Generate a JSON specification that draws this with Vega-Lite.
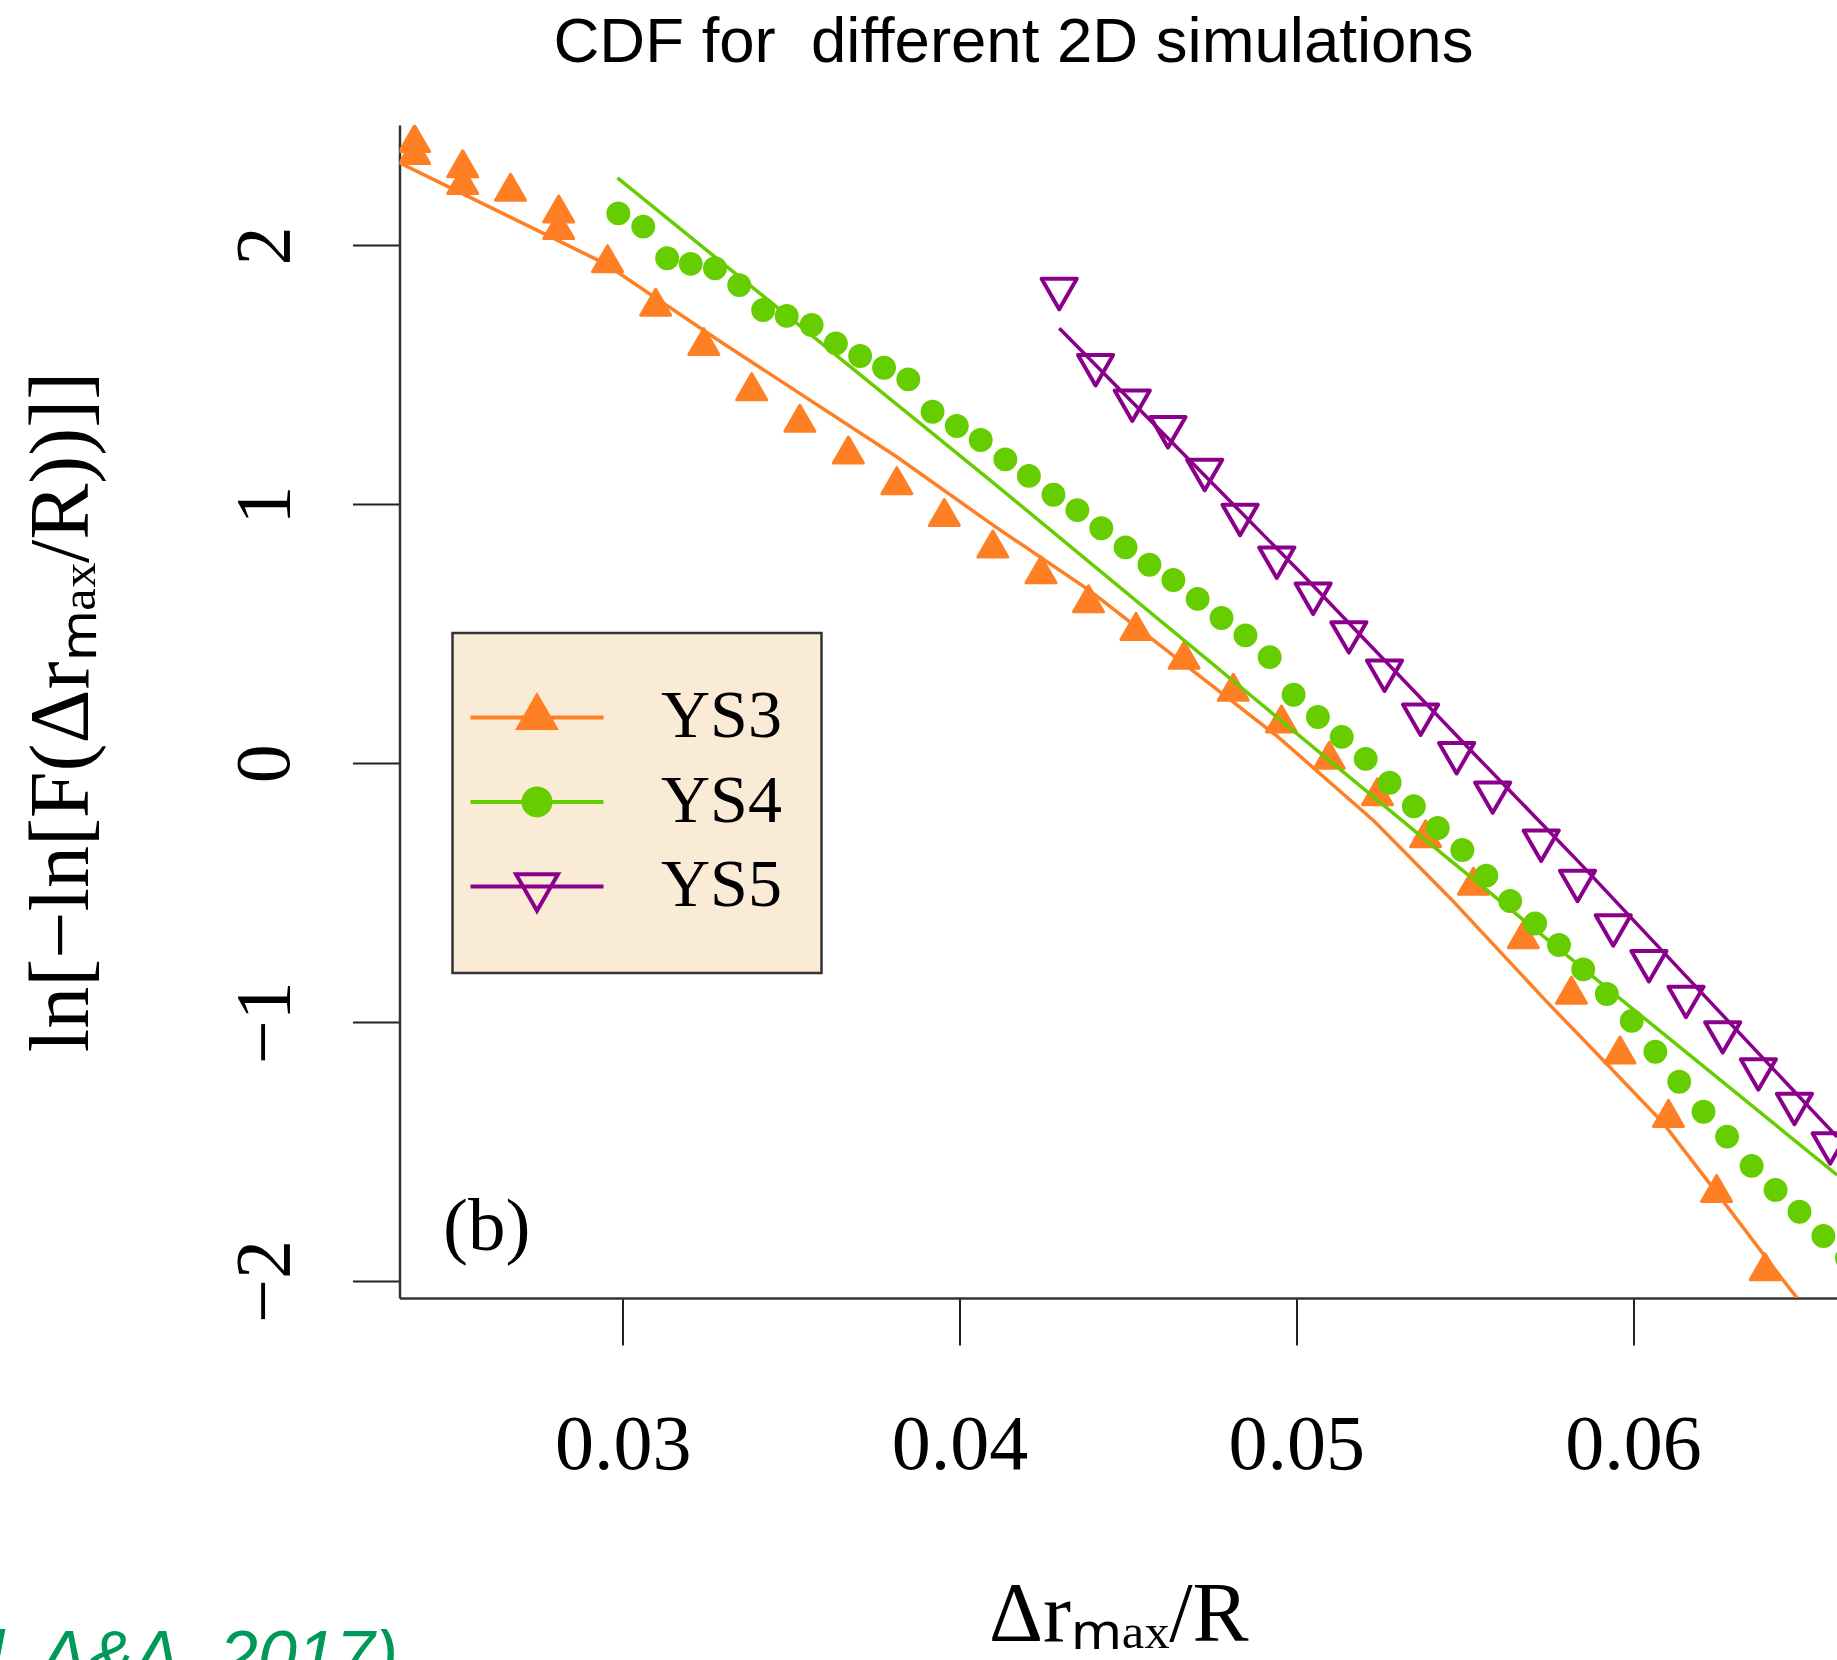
{
  "$schema": "https://vega.github.io/schema/vega-lite/v6.json",
  "autosize": {"type": "none"},
  "padding": {"left": 399.5, "top": 125, "right": 0, "bottom": 362},
  "width": 1437.5,
  "height": 1173,
  "background": "white",
  "title": {
    "text": "CDF for\u00a0 different 2D simulations",
    "anchor": "start",
    "frame": "group",
    "dx": 154,
    "offset": 0,
    "baseline": "alphabetic",
    "font": "Liberation Sans",
    "fontSize": 63.5,
    "fontWeight": "normal",
    "color": "#000000"
  },
  "datasets": {
    "points": [
      {"series": "YS3", "x": 0.02382, "y": 2.396},
      {"series": "YS3", "x": 0.02382, "y": 2.350},
      {"series": "YS3", "x": 0.02525, "y": 2.299},
      {"series": "YS3", "x": 0.02525, "y": 2.234},
      {"series": "YS3", "x": 0.02667, "y": 2.208},
      {"series": "YS3", "x": 0.02810, "y": 2.124},
      {"series": "YS3", "x": 0.02810, "y": 2.060},
      {"series": "YS3", "x": 0.02955, "y": 1.932},
      {"series": "YS3", "x": 0.03098, "y": 1.764},
      {"series": "YS3", "x": 0.03241, "y": 1.612},
      {"series": "YS3", "x": 0.03383, "y": 1.438},
      {"series": "YS3", "x": 0.03526, "y": 1.316},
      {"series": "YS3", "x": 0.03670, "y": 1.193},
      {"series": "YS3", "x": 0.03814, "y": 1.075},
      {"series": "YS3", "x": 0.03955, "y": 0.952},
      {"series": "YS3", "x": 0.04099, "y": 0.830},
      {"series": "YS3", "x": 0.04242, "y": 0.731},
      {"series": "YS3", "x": 0.04383, "y": 0.619},
      {"series": "YS3", "x": 0.04524, "y": 0.512},
      {"series": "YS3", "x": 0.04667, "y": 0.401},
      {"series": "YS3", "x": 0.04813, "y": 0.277},
      {"series": "YS3", "x": 0.04956, "y": 0.154},
      {"series": "YS3", "x": 0.05098, "y": 0.014},
      {"series": "YS3", "x": 0.05241, "y": -0.127},
      {"series": "YS3", "x": 0.05384, "y": -0.289},
      {"series": "YS3", "x": 0.05526, "y": -0.472},
      {"series": "YS3", "x": 0.05674, "y": -0.679},
      {"series": "YS3", "x": 0.05817, "y": -0.893},
      {"series": "YS3", "x": 0.05961, "y": -1.124},
      {"series": "YS3", "x": 0.06105, "y": -1.369},
      {"series": "YS3", "x": 0.06248, "y": -1.659},
      {"series": "YS3", "x": 0.06392, "y": -1.961},
      {"series": "YS4", "x": 0.02987, "y": 2.124},
      {"series": "YS4", "x": 0.03061, "y": 2.073},
      {"series": "YS4", "x": 0.03132, "y": 1.951},
      {"series": "YS4", "x": 0.03202, "y": 1.929},
      {"series": "YS4", "x": 0.03274, "y": 1.912},
      {"series": "YS4", "x": 0.03346, "y": 1.847},
      {"series": "YS4", "x": 0.03417, "y": 1.751},
      {"series": "YS4", "x": 0.03487, "y": 1.728},
      {"series": "YS4", "x": 0.03561, "y": 1.693},
      {"series": "YS4", "x": 0.03633, "y": 1.622},
      {"series": "YS4", "x": 0.03705, "y": 1.573},
      {"series": "YS4", "x": 0.03776, "y": 1.528},
      {"series": "YS4", "x": 0.03848, "y": 1.483},
      {"series": "YS4", "x": 0.03920, "y": 1.358},
      {"series": "YS4", "x": 0.03992, "y": 1.303},
      {"series": "YS4", "x": 0.04063, "y": 1.249},
      {"series": "YS4", "x": 0.04136, "y": 1.174},
      {"series": "YS4", "x": 0.04206, "y": 1.110},
      {"series": "YS4", "x": 0.04279, "y": 1.037},
      {"series": "YS4", "x": 0.04350, "y": 0.978},
      {"series": "YS4", "x": 0.04421, "y": 0.908},
      {"series": "YS4", "x": 0.04493, "y": 0.834},
      {"series": "YS4", "x": 0.04564, "y": 0.767},
      {"series": "YS4", "x": 0.04635, "y": 0.708},
      {"series": "YS4", "x": 0.04707, "y": 0.635},
      {"series": "YS4", "x": 0.04778, "y": 0.561},
      {"series": "YS4", "x": 0.04849, "y": 0.494},
      {"series": "YS4", "x": 0.04921, "y": 0.410},
      {"series": "YS4", "x": 0.04992, "y": 0.265},
      {"series": "YS4", "x": 0.05064, "y": 0.179},
      {"series": "YS4", "x": 0.05135, "y": 0.102},
      {"series": "YS4", "x": 0.05206, "y": 0.017},
      {"series": "YS4", "x": 0.05277, "y": -0.075},
      {"series": "YS4", "x": 0.05349, "y": -0.166},
      {"series": "YS4", "x": 0.05420, "y": -0.250},
      {"series": "YS4", "x": 0.05493, "y": -0.335},
      {"series": "YS4", "x": 0.05564, "y": -0.434},
      {"series": "YS4", "x": 0.05635, "y": -0.532},
      {"series": "YS4", "x": 0.05709, "y": -0.619},
      {"series": "YS4", "x": 0.05780, "y": -0.702},
      {"series": "YS4", "x": 0.05852, "y": -0.796},
      {"series": "YS4", "x": 0.05922, "y": -0.891},
      {"series": "YS4", "x": 0.05996, "y": -0.995},
      {"series": "YS4", "x": 0.06066, "y": -1.114},
      {"series": "YS4", "x": 0.06137, "y": -1.230},
      {"series": "YS4", "x": 0.06209, "y": -1.346},
      {"series": "YS4", "x": 0.06279, "y": -1.442},
      {"series": "YS4", "x": 0.06352, "y": -1.555},
      {"series": "YS4", "x": 0.06423, "y": -1.648},
      {"series": "YS4", "x": 0.06494, "y": -1.732},
      {"series": "YS4", "x": 0.06565, "y": -1.826},
      {"series": "YS4", "x": 0.06635, "y": -1.911},
      {"series": "YS5", "x": 0.04296, "y": 1.832},
      {"series": "YS5", "x": 0.04404, "y": 1.538},
      {"series": "YS5", "x": 0.04513, "y": 1.401},
      {"series": "YS5", "x": 0.04619, "y": 1.298},
      {"series": "YS5", "x": 0.04728, "y": 1.133},
      {"series": "YS5", "x": 0.04833, "y": 0.959},
      {"series": "YS5", "x": 0.04942, "y": 0.794},
      {"series": "YS5", "x": 0.05050, "y": 0.655},
      {"series": "YS5", "x": 0.05156, "y": 0.506},
      {"series": "YS5", "x": 0.05262, "y": 0.358},
      {"series": "YS5", "x": 0.05369, "y": 0.188},
      {"series": "YS5", "x": 0.05476, "y": 0.039},
      {"series": "YS5", "x": 0.05583, "y": -0.113},
      {"series": "YS5", "x": 0.05727, "y": -0.299},
      {"series": "YS5", "x": 0.05835, "y": -0.454},
      {"series": "YS5", "x": 0.05941, "y": -0.626},
      {"series": "YS5", "x": 0.06047, "y": -0.764},
      {"series": "YS5", "x": 0.06157, "y": -0.902},
      {"series": "YS5", "x": 0.06266, "y": -1.039},
      {"series": "YS5", "x": 0.06372, "y": -1.182},
      {"series": "YS5", "x": 0.06479, "y": -1.316},
      {"series": "YS5", "x": 0.06585, "y": -1.468}
    ],
    "fits": [
      {"series": "YS3", "x": 0.023373, "y": 2.319},
      {"series": "YS3", "x": 0.029445, "y": 1.932},
      {"series": "YS3", "x": 0.032830, "y": 1.635},
      {"series": "YS3", "x": 0.038144, "y": 1.183},
      {"series": "YS3", "x": 0.040995, "y": 0.920},
      {"series": "YS3", "x": 0.043845, "y": 0.669},
      {"series": "YS3", "x": 0.046666, "y": 0.384},
      {"series": "YS3", "x": 0.049457, "y": 0.102},
      {"series": "YS3", "x": 0.052307, "y": -0.223},
      {"series": "YS3", "x": 0.054563, "y": -0.520},
      {"series": "YS3", "x": 0.057384, "y": -0.914},
      {"series": "YS3", "x": 0.059106, "y": -1.146},
      {"series": "YS3", "x": 0.060889, "y": -1.389},
      {"series": "YS3", "x": 0.062491, "y": -1.660},
      {"series": "YS3", "x": 0.064451, "y": -1.996},
      {"series": "YS3", "x": 0.064867, "y": -2.065},
      {"series": "YS4", "x": 0.029846, "y": 2.261},
      {"series": "YS4", "x": 0.040906, "y": 1.094},
      {"series": "YS4", "x": 0.054563, "y": -0.374},
      {"series": "YS4", "x": 0.060502, "y": -1.003},
      {"series": "YS4", "x": 0.066054, "y": -1.590},
      {"series": "YS5", "x": 0.042963, "y": 1.680},
      {"series": "YS5", "x": 0.050110, "y": 0.739},
      {"series": "YS5", "x": 0.055455, "y": 0.013},
      {"series": "YS5", "x": 0.058334, "y": -0.374},
      {"series": "YS5", "x": 0.066054, "y": -1.443}
    ],
    "notes": [
      {"label": "(b)", "x": 0.024664, "y": -1.880},
      {"label": "et al, A&A, 2017)", "x": 0.023328, "y": -3.540}
    ]
  },
  "encoding": {
    "x": {
      "field": "x",
      "type": "quantitative",
      "scale": {"domain": [0.023373, 0.066054], "nice": false, "zero": false},
      "axis": {
        "values": [0.03, 0.04, 0.05, 0.06],
        "format": ".2f",
        "title": "Δrₘₐₓ/R",
        "labelPadding": 123,
        "labelBaseline": "alphabetic",
        "labelAlign": "center",
        "titleBaseline": "alphabetic",
        "titleFontSize": 84,
        "titleY": 342
      }
    },
    "y": {
      "field": "y",
      "type": "quantitative",
      "scale": {"domain": [-2.0653, 2.4654], "nice": false, "zero": false},
      "axis": {
        "values": [-2, -1, 0, 1, 2],
        "format": "d",
        "title": "ln[−ln[F(Δrₘₐₓ/R))]]",
        "labelAngle": 270,
        "labelAlign": "center",
        "labelBaseline": "alphabetic",
        "labelPadding": 64.5,
        "titleAngle": 270,
        "titleAlign": "center",
        "titleBaseline": "alphabetic",
        "titleFontSize": 84,
        "titleX": -312.5
      }
    }
  },
  "layer": [
    {
      "data": {"name": "points"},
      "transform": [{"filter": "datum.series === 'YS3'"}],
      "mark": {"type": "point", "shape": "M0,-1.0825L0.9375,0.541L-0.9375,0.541Z", "size": 1024, "filled": true, "fill": "#FF7F24", "stroke": "#FF7F24", "strokeWidth": 3, "strokeJoin": "round", "opacity": 1, "clip": true}
    },
    {
      "data": {"name": "fits"},
      "transform": [{"filter": "datum.series === 'YS3'"}],
      "mark": {"type": "line", "stroke": "#FF7F24", "strokeWidth": 3.5, "clip": true}
    },
    {
      "data": {"name": "points"},
      "transform": [{"filter": "datum.series === 'YS4'"}],
      "mark": {"type": "point", "shape": "M0.7,0A0.7,0.7,0,1,1,-0.7,0A0.7,0.7,0,1,1,0.7,0Z", "size": 1024, "filled": true, "fill": "#66CD00", "stroke": "#66CD00", "strokeWidth": 1.5, "opacity": 1, "clip": true}
    },
    {
      "data": {"name": "fits"},
      "transform": [{"filter": "datum.series === 'YS4'"}],
      "mark": {"type": "line", "stroke": "#66CD00", "strokeWidth": 3.5, "clip": true}
    },
    {
      "data": {"name": "points"},
      "transform": [{"filter": "datum.series === 'YS5'"}],
      "mark": {"type": "point", "shape": "M0,1.27L1.1,-0.635L-1.1,-0.635Z", "size": 1024, "filled": false, "stroke": "#8B008B", "strokeWidth": 4, "strokeJoin": "round", "opacity": 1, "clip": true}
    },
    {
      "data": {"name": "fits"},
      "transform": [{"filter": "datum.series === 'YS5'"}],
      "mark": {"type": "line", "stroke": "#8B008B", "strokeWidth": 3.5, "clip": true}
    },
    {
      "data": {"name": "points"},
      "transform": [{"filter": "false"}],
      "mark": {"type": "point", "filled": true, "opacity": 1},
      "encoding": {
        "shape": {
          "field": "series",
          "type": "nominal",
          "scale": {
            "domain": ["YS3", "YS4", "YS5"],
            "range": [
              "M16.2,0M-4.156,0H4.156M0,-1.335L1.156,0.668L-1.156,0.668Z",
              "M-4.156,0H4.156M0.844,0A0.844,0.844,0,1,1,-0.844,0A0.844,0.844,0,1,1,0.844,0Z",
              "M0,3.82M-4.156,0H4.156M0,1.516L1.3125,-0.758L-1.3125,-0.758Z"
            ]
          },
          "legend": {"title": "\u00a0"}
        },
        "fill": {
          "field": "series",
          "type": "nominal",
          "scale": {"domain": ["YS3", "YS4", "YS5"], "range": ["#FF7F24", "#66CD00", "transparent"]},
          "legend": {"title": "\u00a0"}
        },
        "stroke": {
          "field": "series",
          "type": "nominal",
          "scale": {"domain": ["YS3", "YS4", "YS5"], "range": ["#FF7F24", "#66CD00", "#8B008B"]},
          "legend": {"title": "\u00a0"}
        }
      }
    },
    {
      "data": {"name": "notes"},
      "transform": [{"filter": "datum.label === '(b)'"}],
      "mark": {"type": "text", "align": "left", "baseline": "alphabetic", "font": "Liberation Serif", "fontSize": 75, "color": "#000000"},
      "encoding": {"text": {"field": "label"}}
    },
    {
      "data": {"name": "notes"},
      "transform": [{"filter": "datum.label !== '(b)'"}],
      "mark": {"type": "text", "align": "right", "baseline": "alphabetic", "font": "Liberation Sans", "fontStyle": "italic", "fontSize": 70, "color": "#00995A", "clip": false},
      "encoding": {"text": {"field": "label"}}
    },
    {
      "data": {"values": [{}]},
      "mark": {"type": "rule", "stroke": "#333333", "strokeWidth": 2.5, "clip": false},
      "encoding": {
        "x": {"datum": 0.023373},
        "x2": {"datum": 0.066054},
        "y": {"datum": 2.4654}
      }
    }
  ],
  "config": {
    "view": {"stroke": null},
    "axis": {
      "grid": false,
      "domain": true,
      "domainColor": "#333333",
      "domainWidth": 2.5,
      "ticks": true,
      "tickColor": "#222222",
      "tickWidth": 2,
      "tickSize": 47,
      "labelFont": "Liberation Serif",
      "labelFontSize": 78,
      "labelColor": "#000000",
      "labelOverlap": false,
      "labelFlush": false,
      "titleFont": "Liberation Serif",
      "titleFontSize": 80,
      "titleFontWeight": "normal",
      "titleColor": "#000000"
    },
    "legend": {
      "orient": "none",
      "legendX": 53,
      "legendY": 508,
      "direction": "vertical",
      "fillColor": "#FAEBD7",
      "strokeColor": "#333333",
      "strokeWidth": 2.5,
      "padding": 17,
      "rowPadding": 16.5,
      "symbolSize": 1024,
      "symbolStrokeWidth": 4,
      "symbolOpacity": 1,
      "symbolOffset": 33.5,
      "labelFont": "Liberation Serif",
      "labelFontSize": 68,
      "labelColor": "#000000",
      "labelOffset": 90,
      "labelLimit": 0,
      "titleFont": "Liberation Serif",
      "titleFontSize": 20,
      "titlePadding": 13.4,
      "titleColor": "#000000"
    }
  }
}
